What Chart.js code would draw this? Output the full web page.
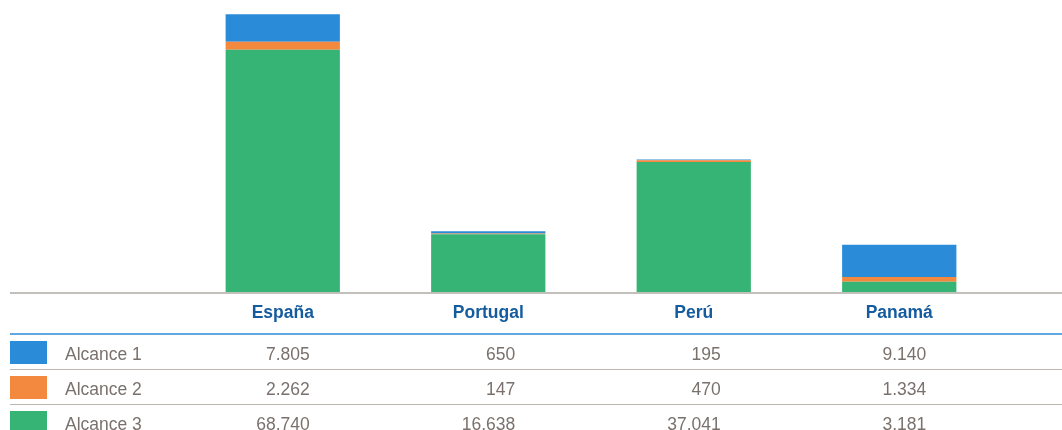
<!DOCTYPE html>
<html>
<head>
<meta charset="utf-8">
<script src="https://cdn.jsdelivr.net/npm/chart.js@4"></script>
<style>
  body { margin: 0; background: #fff; }
</style>
</head>
<body>
<canvas id="myChart" width="1062" height="430"></canvas>
<script>
const paises = ["España", "Portugal", "Perú", "Panamá"];
const series = ["Alcance 1", "Alcance 2", "Alcance 3"];
const alcance1 = [7805, 650, 195, 9140];
const alcance2 = [2262, 147, 470, 1334];
const alcance3 = [68740, 16638, 37041, 3181];
const colores = ["#2a8bd8", "#f2893f", "#36b475"];

function formato(n) {
  return n.toString().replace(/\B(?=(\d{3})+(?!\d))/g, ".");
}

// tabla de datos debajo de las barras
const tablaPlugin = {
  id: "tabla",
  afterDraw(chart) {
    const ctx = chart.ctx;
    const x = chart.scales.x;
    const base = chart.chartArea.bottom;
    const filas = [alcance1, alcance2, alcance3];
    ctx.save();

    ctx.strokeStyle = "#c3bfbb";
    ctx.lineWidth = 2;
    ctx.beginPath();
    ctx.moveTo(10, base);
    ctx.lineTo(1062, base);
    ctx.stroke();

    ctx.font = "bold 17.5px 'Liberation Sans', Arial, sans-serif";
    ctx.fillStyle = "#145c9e";
    ctx.textAlign = "center";
    ctx.textBaseline = "alphabetic";
    paises.forEach((p, i) => {
      ctx.fillText(p, x.getPixelForValue(i), 318);
    });

    ctx.strokeStyle = "#2a8bd8";
    ctx.lineWidth = 1.5;
    ctx.beginPath();
    ctx.moveTo(10, 334);
    ctx.lineTo(1062, 334);
    ctx.stroke();

    ctx.strokeStyle = "#bcb6b1";
    ctx.lineWidth = 1;
    [369.5, 404.5].forEach((y) => {
      ctx.beginPath();
      ctx.moveTo(10, y);
      ctx.lineTo(1062, y);
      ctx.stroke();
    });

    ctx.font = "17.5px 'Liberation Sans', Arial, sans-serif";
    filas.forEach((fila, r) => {
      const top = 341 + r * 35;
      ctx.fillStyle = colores[r];
      ctx.fillRect(10, top, 37, 23);
      ctx.fillStyle = "#7a716c";
      ctx.textAlign = "left";
      ctx.fillText(series[r], 65, 360 + r * 35);
      ctx.textAlign = "right";
      fila.forEach((v, i) => {
        ctx.fillText(formato(v), x.getPixelForValue(i) + 27, 360 + r * 35);
      });
    });
    ctx.restore();
  },
};

const ctx = document.getElementById("myChart").getContext("2d");
const myChart = new Chart(ctx, {
  type: "bar",
  data: {
    labels: paises,
    datasets: [
      { label: series[2], data: alcance3, backgroundColor: colores[2] },
      { label: series[1], data: alcance2, backgroundColor: colores[1] },
      { label: series[0], data: alcance1, backgroundColor: colores[0] },
    ],
  },
  options: {
    responsive: false,
    devicePixelRatio: 1,
    animation: false,
    layout: { padding: { left: 180, right: 60, top: 10, bottom: 137 } },
    datasets: { bar: { categoryPercentage: 1, barPercentage: 0.556 } },
    plugins: { legend: { display: false }, tooltip: { enabled: false } },
    scales: {
      x: { stacked: true, display: false },
      y: { stacked: true, display: false, min: 0, max: 80000 },
    },
  },
  plugins: [tablaPlugin],
});
</script>
</body>
</html>
